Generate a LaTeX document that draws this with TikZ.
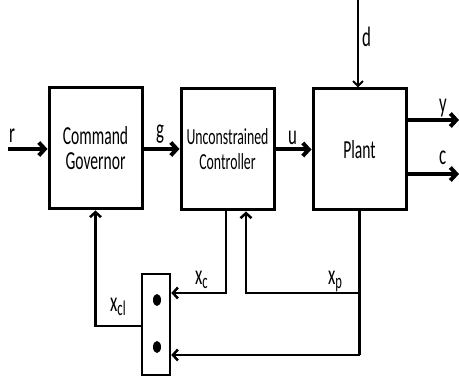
\documentclass[tikz,border=0pt]{standalone}
\usepackage{fontspec}
\newfontfamily\cf[FakeStretch=0.6]{Carlito}
\usetikzlibrary{arrows.meta}
\newcommand{\subx}[1]{x\raisebox{-4pt}{\fontsize{21}{21}\selectfont #1}}
\tikzset{
  blk/.style={draw, line width=3pt, minimum width=93pt, minimum height=121pt, inner sep=0pt, align=center, font=\cf\fontsize{26}{25}\selectfont},
  muxbox/.style={draw, line width=2.5pt, minimum width=28pt, minimum height=101pt, inner sep=0pt},
  thick arrow/.style={line width=4pt, -{Straight Barb[length=6pt,width=13pt]}},
  thin arrow/.style={line width=2pt, -{Straight Barb[length=5pt,width=10pt]}},
  fb/.style={line width=2.5pt},
  fbarrow/.style={line width=2.5pt, -{Straight Barb[length=5pt,width=11pt]}},
  lbl/.style={font=\cf\fontsize{28}{28}\selectfont, inner sep=0pt},
}
\begin{document}
\begin{tikzpicture}[x=1pt,y=-1pt]
\useasboundingbox (0,0) rectangle (459,382);
\fill[white] (0,0) rectangle (459,382);
\node[blk] (cg) at (95.5,148.5) {Command\\Governor};
\node[blk] (uc) at (227.5,149.5) {\fontsize{23}{22}\selectfont Unconstrained\\\fontsize{23}{22}\selectfont Controller};
\node[blk] (plant) at (359.5,149.5) {Plant};
\node[muxbox] (mux) at (156,324.5) {};
\fill (157,300) ellipse (4pt and 6pt);
\fill (157,347) ellipse (4pt and 6pt);
\coordinate (rin) at (8,149);
\coordinate (dtop) at (358,0);
\coordinate (yout) at (459,120);
\coordinate (cout) at (459,174);
% forward path
\draw[thick arrow] (rin) -- (rin -| cg.west);
\draw[thick arrow] (cg.east |- rin) -- (uc.west |- rin);
\draw[thick arrow] (uc.east) -- (plant.west);
\draw[thin arrow] (dtop) -- (dtop |- plant.north);
\draw[thick arrow] (yout -| plant.east) -- (yout);
\draw[thick arrow] (cout -| plant.east) -- (cout);
% feedback
\draw[fbarrow] (mux.west |- 0,326) -| (cg.south);
\draw[fbarrow] ([xshift=-1.5pt]uc.south) |- ([yshift=31.5pt]mux.east);
\draw[fb] (plant.south) -- (plant.south |- 0,355);
\draw[fbarrow] (plant.south |- 0,355) -- ([yshift=-30.5pt]mux.east);
\draw[fbarrow] (plant.south |- 0,293) -| ([xshift=18.5pt]uc.south);
% labels
\node[lbl, anchor=base west] (lr) at (9,143) {r};
\node[lbl, anchor=base west] (lg) at (156,139) {g};
\node[lbl, anchor=base west] (lu) at (288,145) {u};
\node[lbl, anchor=base west] (ld) at (362,47) {d};
\node[lbl, anchor=base west] (ly) at (439,113) {y};
\node[lbl, anchor=base west] (lc) at (439,165) {c};
\node[lbl, anchor=base west] (lxc) at (195,285) {\subx{c}};
\node[lbl, anchor=base west] (lxp) at (328,285) {\subx{p}};
\node[lbl, anchor=base west] (lxcl) at (110,312) {\subx{cl}};
\end{tikzpicture}
\end{document}
